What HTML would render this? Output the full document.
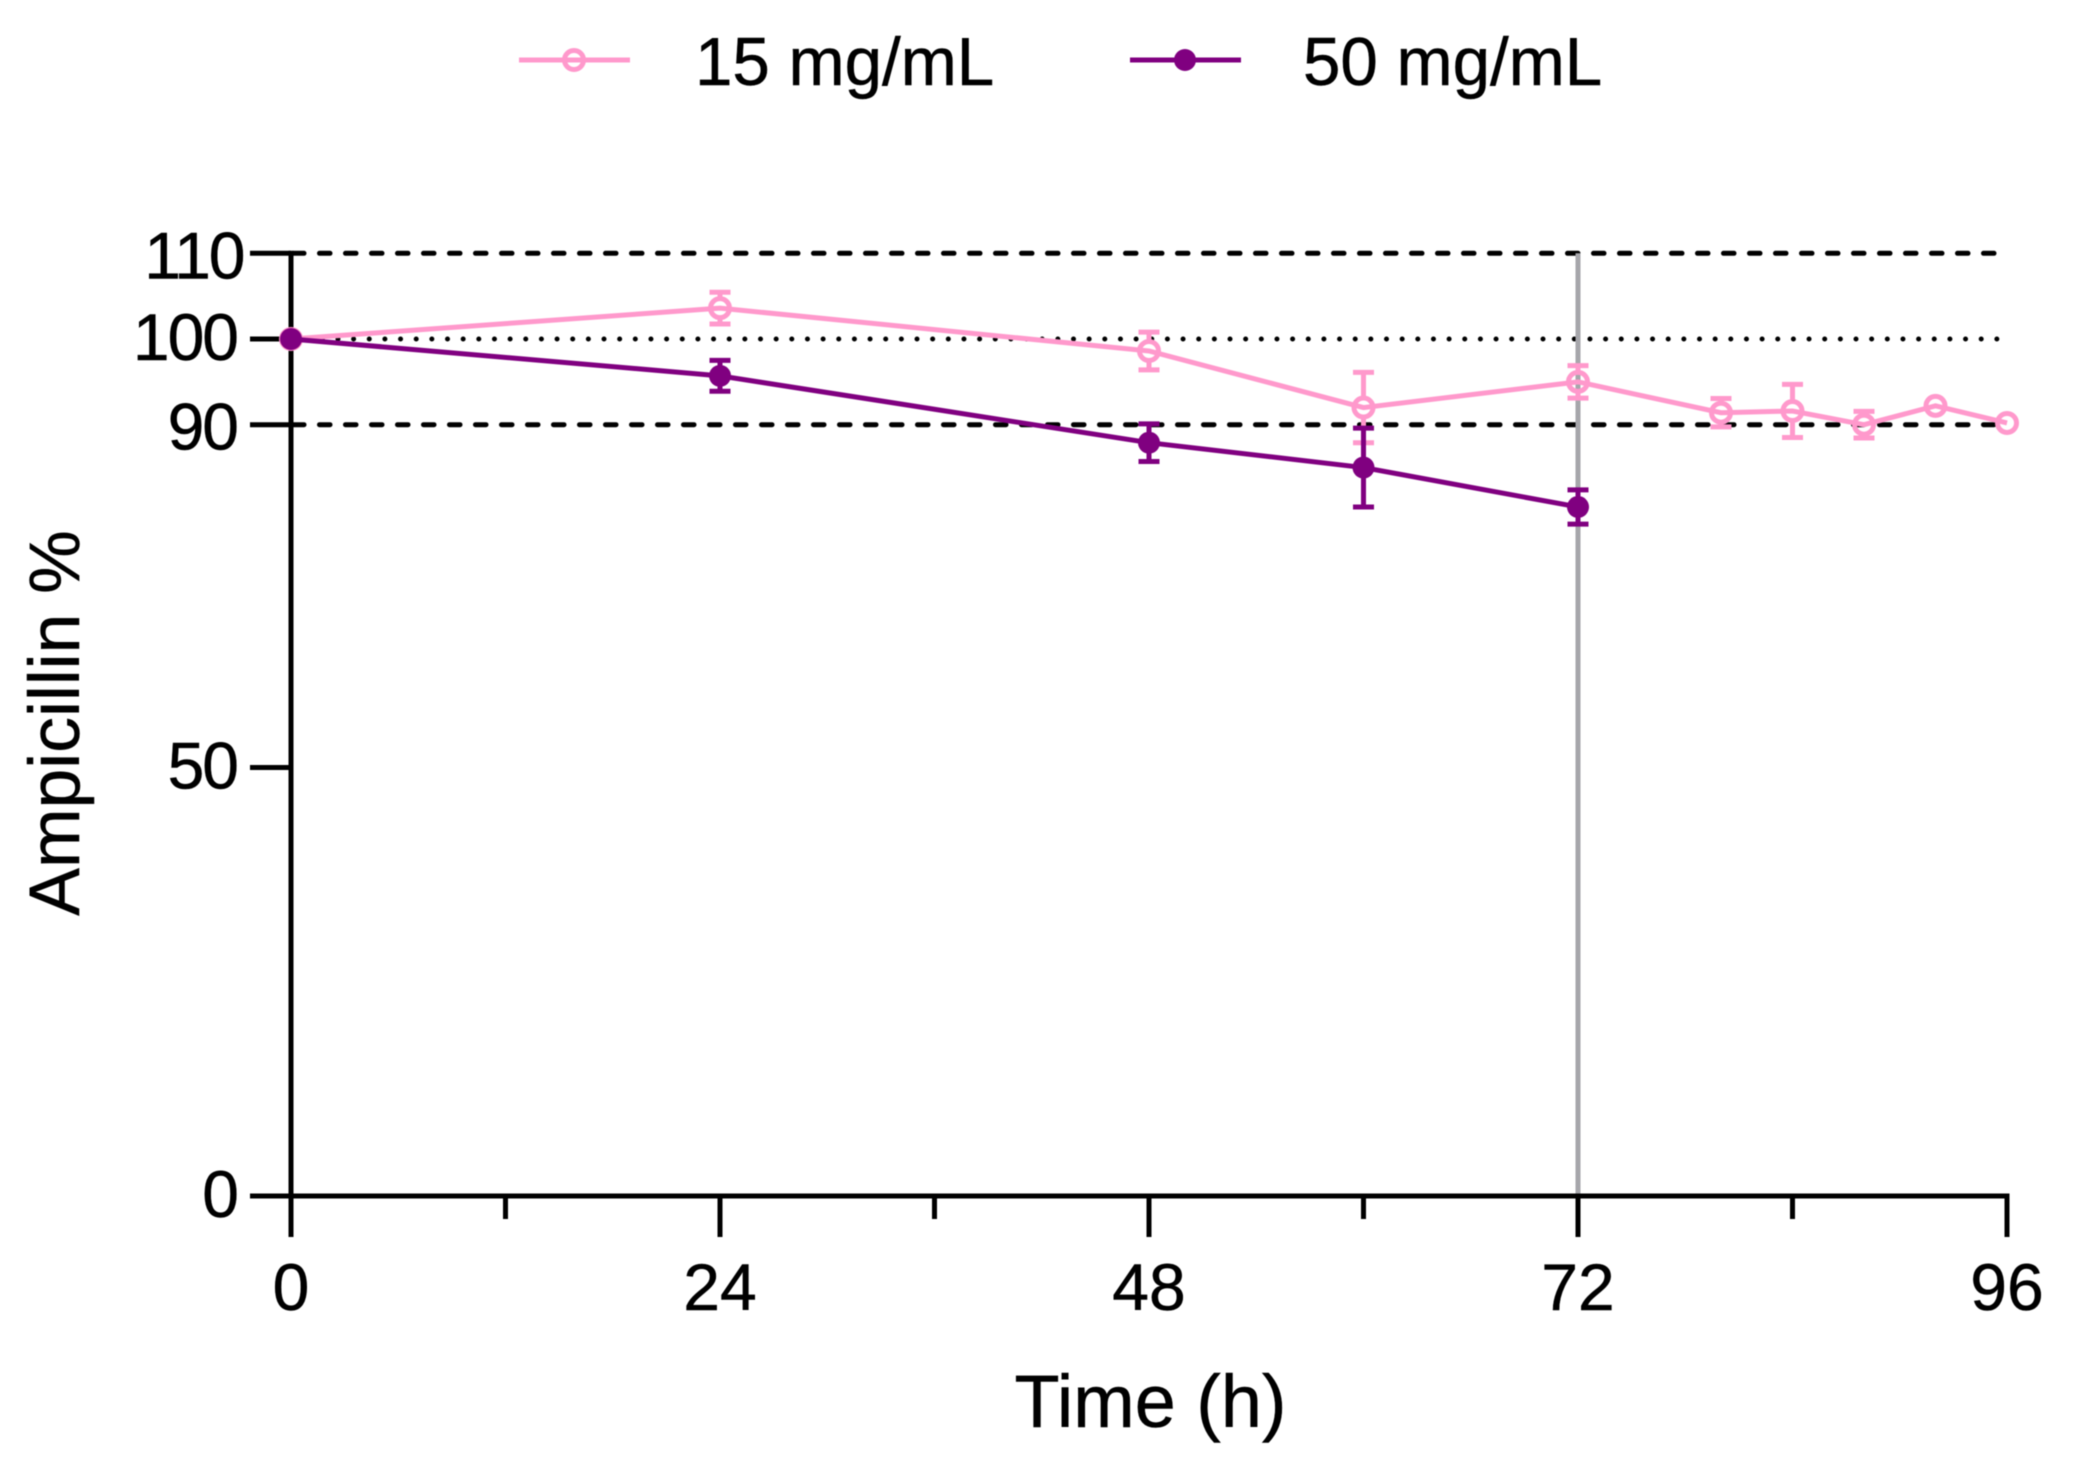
<!DOCTYPE html>
<html lang="en">
<head>
<meta charset="utf-8">
<title>Ampicillin % over time</title>
<style>
html,body{margin:0;padding:0;background:#fff;width:2074px;height:1466px;overflow:hidden}
svg{display:block;filter:blur(0.5px)}
text{font-family:"Liberation Sans",Arial,sans-serif;fill:#000;stroke:#000;stroke-width:0.5px}
</style>
</head>
<body>
<svg id="chart" xmlns="http://www.w3.org/2000/svg" width="2074" height="1466" viewBox="0 0 2074 1466">
<rect x="0" y="0" width="2074" height="1466" fill="#ffffff"/>
<g id="refs"></g>
<g id="axes"></g>
<g id="series"></g>
<text transform="translate(79,723) rotate(-90)" text-anchor="middle" font-size="71.5">Ampicillin %</text>
<text x="1150.5" y="1427" text-anchor="middle" font-size="73.8">Time (h)</text>
<g>
<g>
<line x1="519" x2="630" y1="60" y2="60" stroke="#ff99cc" stroke-width="5"/>
<circle cx="574" cy="60" r="9.5" fill="none" stroke="#ff99cc" stroke-width="5"/>
<text x="695" y="85" font-size="67.3">15 mg/mL</text>
</g>
<g>
<line x1="1130" x2="1241" y1="60" y2="60" stroke="#800080" stroke-width="5"/>
<circle cx="1185" cy="60" r="11" fill="#800080"/>
<text x="1303" y="85" font-size="67.3">50 mg/mL</text>
</g>
</g>
</svg>
<script>
const xTicks = [0, 12, 24, 36, 48, 60, 72, 84, 96];
const xTickLabels = ["0", "", "24", "", "48", "", "72", "", "96"];
const yTicks = [0, 50, 90, 100, 110];
const yTickLabels = ["0", "50", "90", "100", "110"];
const dashedRefs = [90, 110];
const dottedRefs = [100];
const markerHour = [72];
const pinkHours = [0, 24, 48, 60, 72, 80, 84, 88, 92, 96];
const pinkValues = [100, 103.6, 98.6, 92.0, 95.0, 91.4, 91.6, 90, 92.2, 90.2];
const pinkErrors = [0, 1.85, 2.2, 4.1, 1.9, 1.65, 3.1, 1.55, 0, 0];
const purpleHours = [0, 24, 48, 60, 72];
const purpleValues = [100, 95.7, 87.9, 85, 80.4];
const purpleErrors = [0, 1.8, 2.2, 4.6, 2.0];

const SVGNS = "http://www.w3.org/2000/svg";
function xScale(h) { return 291 + h * 17.875; }
function yScale(v) { return 1196 - v * 8.57; }
function mk(tag, parent) {
  const el = document.createElementNS(SVGNS, tag);
  parent.appendChild(el);
  return el;
}
function seg(parent, x1, y1, x2, y2, color, width) {
  const el = mk("line", parent);
  el.setAttribute("x1", x1);
  el.setAttribute("y1", y1);
  el.setAttribute("x2", x2);
  el.setAttribute("y2", y2);
  el.setAttribute("stroke", color);
  el.setAttribute("stroke-width", width);
  return el;
}

const refs = document.getElementById("refs");
const axes = document.getElementById("axes");
const seriesG = document.getElementById("series");

dashedRefs.forEach(function (v) {
  const el = seg(refs, xScale(0), yScale(v), xScale(96), yScale(v), "#000", 5);
  el.setAttribute("stroke-dasharray", "10.5 15.5");
  el.setAttribute("stroke-dashoffset", "-2.5");
  el.setAttribute("stroke-linecap", "round");
  
  
});
dottedRefs.forEach(function (v) {
  const el = seg(refs, xScale(0), yScale(v), xScale(96), yScale(v), "#000", 5);
  el.setAttribute("stroke-dasharray", "0.01 15.64");
  el.setAttribute("stroke-linecap", "round");
  
  
});
markerHour.forEach(function (h) {
  const el = seg(refs, xScale(h), yScale(110), xScale(h), yScale(0), "#a6a6ab", 5);
  
  
});

const yAxisLine = seg(axes, xScale(0), yScale(110) - 2.5, xScale(0), yScale(0), "#000", 5);


const xAxisLine = seg(axes, xScale(0) - 2.5, yScale(0), xScale(96) + 2.5, yScale(0), "#000", 5);



yTicks.forEach(function (t, i) {
  const y = yScale(t);
  const tick = seg(axes, 250, y, xScale(0), y, "#000", 5);
  
  
  const label = mk("text", axes);
  
  
  label.setAttribute("x", t === 110 ? 243.5 : 237);
  label.setAttribute("y", y + ((t === 110 || t === 90) ? 25 : 21));
  label.setAttribute("text-anchor", "end");
  label.setAttribute("font-size", "66");
  label.setAttribute("letter-spacing", "-2");
  label.textContent = yTickLabels[i];
});

xTicks.forEach(function (t, i) {
  const x = xScale(t);
  const major = xTickLabels[i] !== "";
  const tick = seg(axes, x, yScale(0), x, major ? 1237 : 1219, "#000", 5);
  
  
  if (major) {
    const label = mk("text", axes);
    
    
    label.setAttribute("x", x);
    label.setAttribute("y", 1310);
    label.setAttribute("text-anchor", "middle");
    label.setAttribute("font-size", "66");
    label.textContent = xTickLabels[i];
  }
});

function drawSeries(slug, hours, values, errors, color, hollow) {
  const g = mk("g", seriesG);
  
  
  const line = mk("polyline", g);
  
  
  line.setAttribute("fill", "none");
  line.setAttribute("stroke", color);
  line.setAttribute("stroke-width", "5");
  line.setAttribute("points", hours.map(function (h, i) {
    return xScale(h) + "," + yScale(values[i]);
  }).join(" "));
  hours.forEach(function (h, i) {
    const x = xScale(h);
    const y = yScale(values[i]);
    if (errors[i] > 0) {
      const top = yScale(values[i] + errors[i]);
      const bottom = yScale(values[i] - errors[i]);
      const gapHalf = hollow ? 10 : 0;
      const stemUp = seg(g, x, top, x, y - gapHalf, color, 5);
      
      
      const stemDown = seg(g, x, y + gapHalf, x, bottom, color, 5);
      
      
      const capTop = seg(g, x - 10.5, top, x + 10.5, top, color, 5);
      
      
      const capBottom = seg(g, x - 10.5, bottom, x + 10.5, bottom, color, 5);
      
      
    }
    const dot = mk("circle", g);
    
    
    dot.setAttribute("cx", x);
    dot.setAttribute("cy", y);
    if (hollow) {
      dot.setAttribute("r", "9.5");
      dot.setAttribute("fill", "none");
      dot.setAttribute("stroke", color);
      dot.setAttribute("stroke-width", "5");
    } else {
      dot.setAttribute("r", "11");
      dot.setAttribute("fill", color);
    }
  });
}
drawSeries("15-mg-ml", pinkHours, pinkValues, pinkErrors, "#ff99cc", true);
drawSeries("50-mg-ml", purpleHours, purpleValues, purpleErrors, "#800080", false);
</script>
</body>
</html>
